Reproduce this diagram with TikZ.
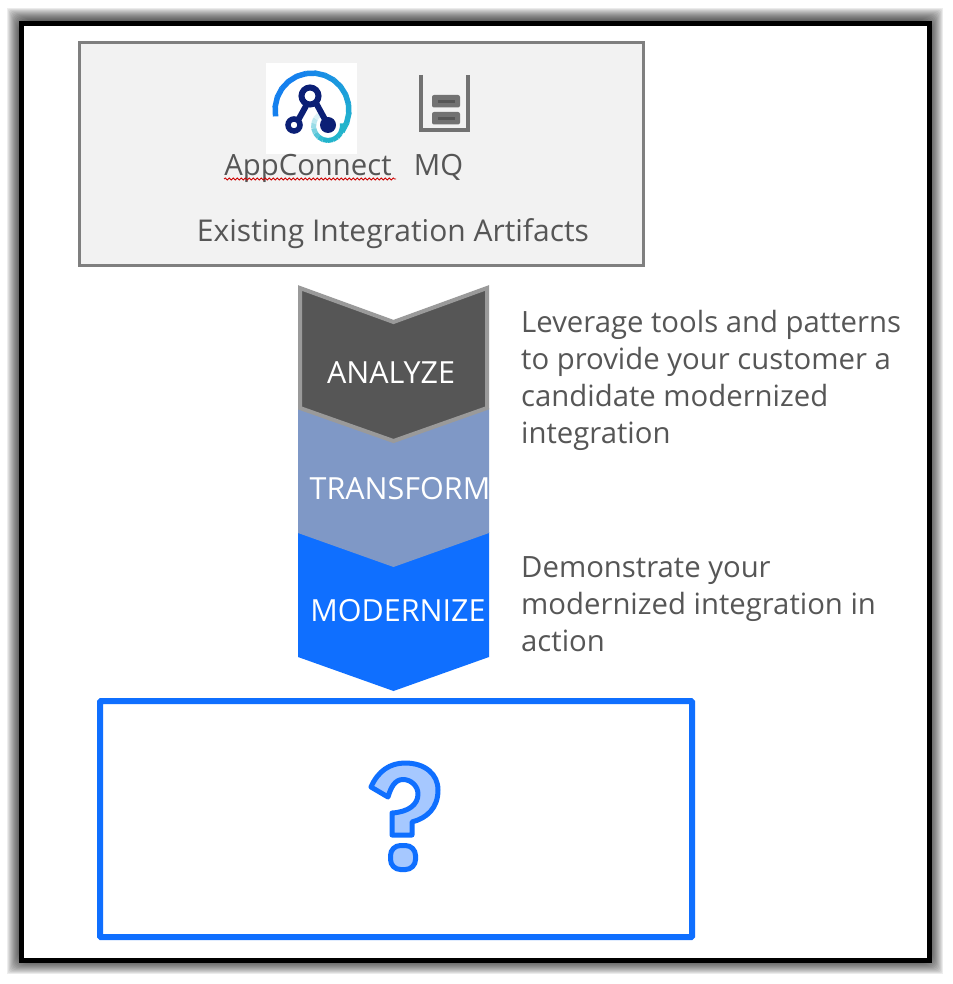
\documentclass[tikz,border=0pt]{standalone}
\usepackage{fontspec}
\setmainfont{Open Sans}
\usepackage{tikz}
\usetikzlibrary{decorations.pathmorphing}
\definecolor{boxgray}{HTML}{F2F2F2}
\definecolor{edgegray}{HTML}{7F7F7F}
\definecolor{textgray}{HTML}{565656}
\definecolor{rimgray}{HTML}{9A9A9A}
\definecolor{steelblue}{HTML}{7F98C6}
\definecolor{ibmblue}{HTML}{0F6FFF}
\definecolor{paleblue}{HTML}{A6C8FF}
\definecolor{navy}{HTML}{0B1F75}
\definecolor{arcblue}{HTML}{1580EE}
\definecolor{arcteal}{HTML}{22B4CC}
\tikzset{
  bodytext/.style={text=textgray, font=\fontsize{29.3}{37}\selectfont, align=left, inner sep=0pt},
  steptext/.style={text=white, font=\fontsize{30.5}{34}\selectfont, inner sep=0pt},
  navyline/.style={navy, line width=6pt}
}
\newcommand{\chevronpath}[1]{(298,#1) -- (393.5,#1+34) -- (489,#1) -- (489,#1+125) -- (393.5,#1+159) -- (298,#1+125) -- cycle}
\begin{document}
\begin{tikzpicture}[x=1pt,y=-1pt]
  \useasboundingbox (0,0) rectangle (952,984);
  % Soft shadow round the frame
  \foreach \i in {0,...,13} {
    \fill[black, opacity=0.07, rounded corners=\i pt] ({7+\i},{8+\i}) rectangle ({943-\i},{974-\i});
  }
  % Frame
  \draw[line width=5pt, fill=white] (21.5,23.5) rectangle (929.5,960);
  % Existing artifacts box
  \draw[line width=3pt, edgegray, fill=boxgray] (79.5,42.5) rectangle (643.5,265.5);
  % AppConnect logo
  \fill[white] (266,63) rectangle (357,154);
  \foreach \a [remember=\a as \prev (initially 190)] in {175,160,...,-35} {
    \pgfmathsetmacro{\mixval}{min(100,(\a+35)/1.4)}
    \draw[line width=5.5pt, color=arcblue!\mixval!arcteal]
      ({312+37*cos(\prev)},{110-37*sin(\prev)}) -- ({312+37*cos(\a-1)},{110-37*sin(\a-1)});
  }
  % Swirl under the right-hand dot
  \foreach \a [remember=\a as \prev (initially 10)] in {-10,-30,...,-230} {
    \pgfmathsetmacro{\mixval}{min(100,(\a+250)/1.3)}
    \draw[line width=5pt, color=arcteal!\mixval!white]
      ({328+14.5*cos(\prev)},{126-14.5*sin(\prev)}) -- ({328+14.5*cos(\a-1)},{126-14.5*sin(\a-1)});
  }
  \draw[navyline] (316,103) -- (328,125);
  \draw[navyline] (296,124) -- (306,106);
  \draw[navy, line width=6pt, fill=white] (310,96) circle (8.5);
  \draw[navy, line width=5.5pt, fill=white] (294,125) circle (6);
  \fill[navy] (328,125) circle (8);
  % MQ icon
  \draw[line width=4pt, edgegray!90!black] (421,75) -- (421,130) -- (468,130) -- (468,75);
  \foreach \y in {95,112} {
    \fill[edgegray!90!black, rounded corners=2pt] (432,\y) rectangle (460,\y+12.5);
    \draw[line width=2.5pt, textgray] (438,\y+6.5) -- (455,\y+6.5);
  }
  \node[bodytext, anchor=base] (appconnect) at (308,176) {AppConnect};
  \node[bodytext, anchor=base] (mq) at (438.5,176) {MQ};
  \draw[red!80!black, line width=0.8pt, decorate, decoration={snake, amplitude=1pt, segment length=4pt}] (224,179) -- (396,179);
  \node[bodytext, anchor=base, font=\fontsize{30}{37}\selectfont] (artifacts) at (393,241) {Existing Integration Artifacts};
  % Chevrons, last one first
  \fill[ibmblue] \chevronpath{532};
  \fill[steelblue] \chevronpath{408};
  \draw[line width=4pt, rimgray, fill=textgray, miter limit=10] (300,288) -- (393.5,322) -- (487,288) -- (487,408) -- (393.5,441) -- (300,408) -- cycle;
  \node[steptext] (analyze) at (391,372.5) {ANALYZE};
  \node[steptext] (transform) at (400,488.5) {TRANSFORM};
  \node[steptext] (modernize) at (398,610.5) {MODERNIZE};
  % Side notes
  \node[bodytext, anchor=north west] (leverage) at (521,310) {Leverage tools and patterns\\to provide your customer a\\candidate modernized\\integration};
  \node[bodytext, anchor=north west] (demo) at (521,556) {Demonstrate your\\modernized integration in\\action};
  % Result box
  \draw[line width=6pt, ibmblue, rounded corners=1pt] (100,701) rectangle (692,937);
  \draw[line width=5pt, ibmblue, fill=paleblue, line join=round] (371,787)
    .. controls (378,771) and (390,763) .. (405,763)
    .. controls (425,763) and (438,774) .. (438,790)
    .. controls (438,808) and (427,818) .. (412,822)
    -- (412,835) -- (392,835) -- (392,813)
    .. controls (408,812) and (418,805) .. (418,794)
    .. controls (418,786) and (411,779.5) .. (403,779.5)
    .. controls (395,779.5) and (391,787) .. (388,797) -- cycle;
  \draw[line width=5pt, ibmblue, fill=paleblue, rounded corners=10pt] (390.5,845.5) rectangle (415.5,869.5);
\end{tikzpicture}
\end{document}
